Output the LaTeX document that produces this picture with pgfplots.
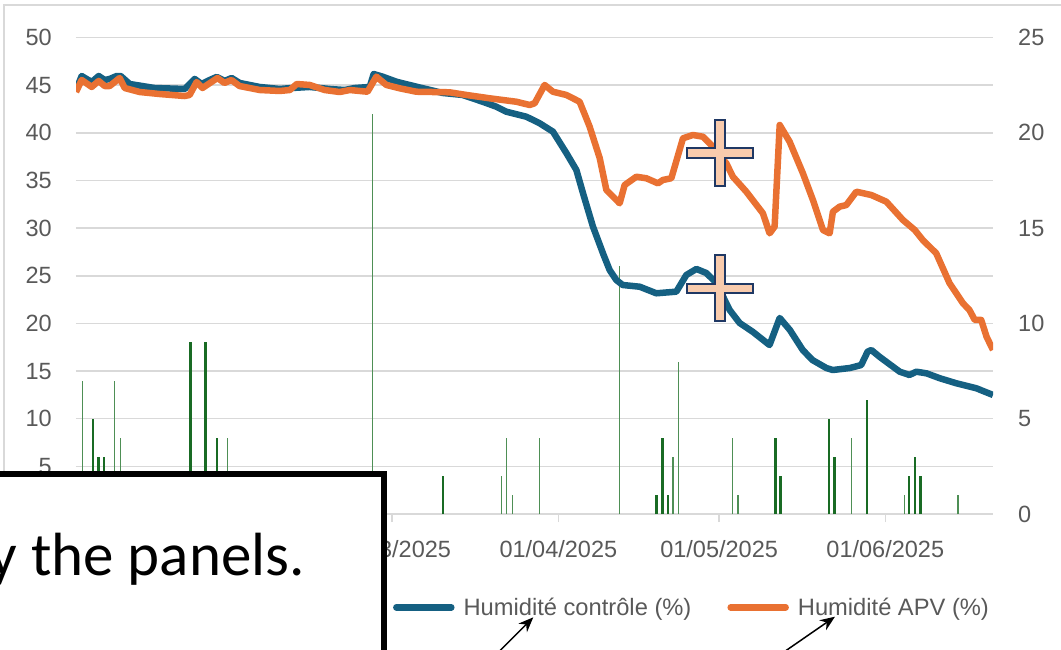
\documentclass[border=0pt]{standalone}
\usepackage{pgfplots}
\pgfplotsset{compat=1.18}
\usepackage{fontspec}
\setmainfont{Liberation Sans}
\newfontfamily\boxfont{Carlito}
\usetikzlibrary{arrows.meta}
\definecolor{ctrl}{HTML}{156082}
\definecolor{apv}{HTML}{E97132}
\definecolor{rain}{HTML}{196B24}
\definecolor{rainlt}{HTML}{4E8F55}
\definecolor{gridc}{HTML}{D9D9D9}
\definecolor{muted}{HTML}{595959}
\definecolor{crossfill}{HTML}{F8CBAD}
\definecolor{crossdraw}{HTML}{1F3864}

\pgfplotsset{
  base/.style={scale only axis, width=917pt, height=476.5pt,
    at={(76pt,135pt)}, anchor=south west, xmin=0, xmax=171.1, ymin=0},
  lbl/.style={font=\fontsize{23.5}{28}\selectfont, color=muted,
    /pgf/number format/assume math mode=true},
}

\begin{document}
\begin{tikzpicture}
\useasboundingbox (0pt,0pt) rectangle (1061pt,649pt);
% chart area border
\draw[gridc, line width=1.5pt] (4pt,644pt) rectangle (1090pt,-30pt);

% grid, left axis, dates (01/01 and 01/02 sit under the text box)
\begin{axis}[base, ymax=50,
  ytick={0,5,...,50}, ymajorgrids, grid style={gridc, line width=1.5pt},
  xtick={59,90,120,151},
  xticklabels={01/03/2025,01/04/2025,01/05/2025,01/06/2025},
  axis x line*=bottom, axis y line*=left,
  x axis line style={gridc, line width=1.5pt, -}, y axis line style={draw=none},
  tick align=outside, major tick length=8pt,
  xtick style={gridc, line width=1.5pt}, ytick style={draw=none},
  tick label style={lbl},
  yticklabel style={anchor=east, inner sep=0pt, xshift=-16pt},
  xticklabel style={anchor=north, inner sep=0pt, yshift=-18pt},
]
\end{axis}

% rainfall, right axis
\begin{axis}[base, ymax=25,
  axis y line*=right, axis x line=none, y axis line style={draw=none},
  ytick={0,5,...,25}, ytick style={draw=none},
  tick label style={lbl},
  yticklabel style={anchor=west, inner sep=0pt, xshift=25pt},
]
\addplot[ycomb, no markers, line width=2.5pt, color=rain] coordinates {
  (3.17,5) (4.18,3) (5.22,3) (21.34,9) (24.20,9) (26.31,4) (68.47,2)
  (108.34,1) (109.40,4) (110.45,1) (130.49,4) (131.47,2) (140.49,5)
  (141.49,3) (147.57,6) (155.41,2) (156.53,3) (157.54,2)};
\addplot[ycomb, no markers, line width=1.3pt, color=rainlt] coordinates {
  (1.19,7) (7.22,7) (8.28,4) (28.30,4) (55.35,21) (79.37,2) (80.36,4)
  (81.42,1) (86.46,4) (101.44,13) (111.38,3) (112.44,8) (122.46,4)
  (123.51,1) (144.66,4) (154.55,1) (164.55,1)};
\end{axis}

% humidity lines
\begin{axis}[base, ymax=50, hide axis,
  legend style={at={(0.3425,-0.1958)}, anchor=west, draw=none, fill=none,
    inner sep=0pt, outer sep=0pt, font=\fontsize{23.7}{28}\selectfont,
    text=muted, nodes={inner sep=0pt}},
  legend columns=2, legend cell align=left,
  /tikz/every even column/.append style={column sep=33pt},
  legend image code/.code={
    \draw[#1, line cap=round] (3pt,0pt) -- (58pt,0pt);
    \path (0pt,0pt) (67pt,0pt);},
]
\addplot[ctrl, line width=6.5pt, line join=round] coordinates {
  (0,44.49) (1.06,45.96) (2.93,45.33) (4.24,45.96) (5.35,45.54) (6.29,45.65)
  (7.59,45.96) (8.34,45.96) (10.02,45.12) (14.68,44.70) (20.28,44.60)
  (22.14,45.65) (23.45,45.12) (24.94,45.54) (26.25,45.86) (27.74,45.44)
  (29.04,45.75) (30.54,45.23) (34.27,44.81) (38.0,44.60) (40.24,44.70)
  (43.6,44.81) (47.33,44.60) (50.13,44.49) (52.0,44.70) (54.8,44.81)
  (55.54,46.17) (57.22,45.89) (59.78,45.36) (63.51,44.84) (68.41,44.18)
  (72.14,43.97) (75.88,43.26) (78.43,42.74) (80.30,42.21) (84.03,41.69)
  (86.51,41.0) (88.99,40.12) (91.49,37.88) (93.36,36.10) (94.59,33.68)
  (96.46,30.15) (98.32,27.36) (99.57,25.60) (100.82,24.55) (102.0,24.03)
  (105.17,23.85) (108.28,23.16) (112.01,23.33) (113.88,25.08) (115.75,25.71)
  (117.61,25.29) (119.48,24.24) (121.96,21.41) (123.83,20.04) (126.25,19.13)
  (129.4,17.73) (131.3,20.57) (133.2,19.31) (135.6,17.21) (137.4,16.16)
  (140.0,15.32) (141.2,15.11) (144.4,15.32) (146.5,15.63) (147.7,17.03)
  (148.4,17.21) (149.9,16.51) (153.7,14.93) (155.5,14.59) (156.8,14.93)
  (158.7,14.76) (161.2,14.24) (164.3,13.71) (168.0,13.19) (171.1,12.49)};
\addlegendentry{Humidité contrôle (\%)}
\addplot[apv, line width=6.5pt, line join=round] coordinates {
  (0,44.28) (1.06,45.54) (2.93,44.81) (4.24,45.44) (5.35,44.91) (6.29,44.91)
  (8.15,45.75) (9.09,44.70) (11.88,44.28) (15.62,44.07) (20.28,43.86)
  (21.2,43.97) (22.5,45.33) (23.6,44.70) (26.4,45.75) (27.7,45.23)
  (29.0,45.54) (30.5,44.91) (34.3,44.49) (38.0,44.39) (39.9,44.49)
  (41.2,45.12) (43.6,45.02) (46.4,44.49) (49.2,44.28) (51.1,44.49)
  (54.4,44.31) (56.04,45.89) (57.91,45.02) (60.39,44.67) (63.51,44.31)
  (69.72,44.25) (72.84,43.97) (77.18,43.62) (82.16,43.26) (84.65,42.92)
  (85.58,43.10) (87.44,45.02) (88.99,44.31) (91.49,43.97) (93.97,43.26)
  (95.84,40.64) (97.71,37.36) (98.96,34.0) (101.44,32.60) (102.37,34.52)
  (104.55,35.39) (106.42,35.23) (108.58,34.70) (109.51,35.05) (111.08,35.23)
  (113.25,39.42) (115.11,39.77) (116.98,39.59) (118.84,38.54) (121.34,36.80)
  (122.57,35.39) (125.07,33.82) (128.17,31.55) (129.42,29.45) (130.35,30.15)
  (131.3,40.82) (133.15,39.07) (135.63,35.75) (137.5,32.95) (139.37,29.80)
  (140.62,29.45) (141.23,31.72) (142.48,32.25) (143.73,32.42) (145.6,33.82)
  (148.4,33.47) (151.2,32.77) (154.3,30.85) (156.5,29.80) (158.0,28.75)
  (160.5,27.36) (163.0,24.21) (165.5,22.11) (166.7,21.41) (167.7,20.36)
  (168.9,20.36) (169.9,18.60) (171.1,17.21)};
\addlegendentry{Humidité APV (\%)}
\end{axis}

% plus-shaped annotations
\foreach \cy in {496, 360.5} {
  \draw[fill=crossfill, draw=crossdraw, line width=2pt]
    (715pt,\cy pt+33pt) -- (725pt,\cy pt+33pt) -- (725pt,\cy pt+4.75pt)
    -- (753pt,\cy pt+4.75pt) -- (753pt,\cy pt-4.75pt) -- (725pt,\cy pt-4.75pt)
    -- (725pt,\cy pt-33pt) -- (715pt,\cy pt-33pt) -- (715pt,\cy pt-4.75pt)
    -- (687pt,\cy pt-4.75pt) -- (687pt,\cy pt+4.75pt) -- (715pt,\cy pt+4.75pt)
    -- cycle;
}

% overlay text box
\draw[black, line width=6pt, fill=white] (-30pt,-30pt) rectangle (384pt,175.5pt);
\node[anchor=base east, inner sep=0pt, font=\boxfont\fontsize{61}{70}\selectfont]
  at (305pt,74pt) {by the panels.};

% arrows to the legend
\draw[black, line width=1.5pt, -{Stealth[length=15pt, width=12pt]}]
  (491.7pt,-10pt) -- (533.3pt,31.7pt);
\draw[black, line width=1.5pt, -{Stealth[length=15pt, width=12pt]}]
  (773.8pt,-10pt) -- (835pt,32.3pt);
\end{tikzpicture}
\end{document}
